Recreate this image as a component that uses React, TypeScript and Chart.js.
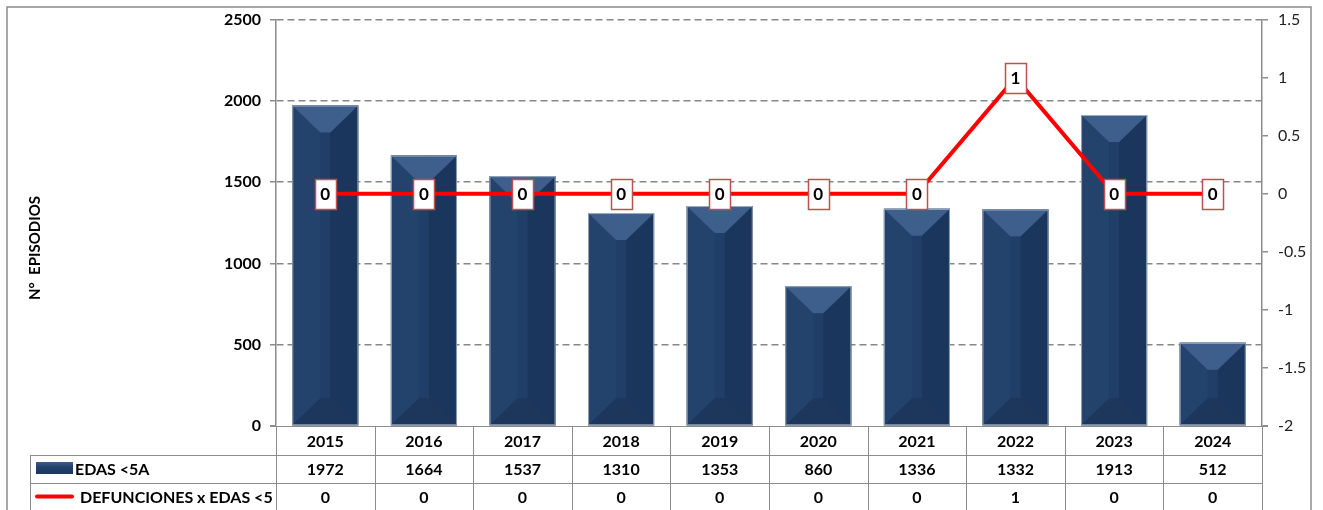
import React, { useEffect, useRef } from "react";
import { Chart, registerables } from "chart.js";

Chart.register(...registerables);

const years = ["2015", "2016", "2017", "2018", "2019", "2020", "2021", "2022", "2023", "2024"];
const edas = [1972, 1664, 1537, 1310, 1353, 860, 1336, 1332, 1913, 512];
const deaths = [0, 0, 0, 0, 0, 0, 0, 1, 0, 0];
const seriesNames = ["EDAS <5A", "DEFUNCIONES x EDAS <5"];
const yTitle = "N°  EPISODIOS";
const leftAxis = { min: 0, max: 2500, step: 500 };
const rightAxis = { min: -2, max: 1.5, step: 0.5 };

const FONT = "Lato, 'Open Sans', sans-serif";
const GRAY = "#8c8c8c";

const bevelPlugin = {
  id: "bevel",
  afterDatasetDraw(chart: any, args: any) {
    if (args.index !== 0) return;
    const ctx = chart.ctx;
    args.meta.data.forEach((el: any) => {
      const p = el.getProps(["x", "y", "base", "width"], true);
      const L = p.x - p.width / 2;
      const R = p.x + p.width / 2;
      const T = Math.min(p.y, p.base);
      const B = Math.max(p.y, p.base);
      const cx = p.x;
      const h = B - T;
      const d = Math.min(27, h / 2);
      const s = 5;
      ctx.save();
      ctx.fillStyle = "#23426c";
      ctx.fillRect(L, T, cx - L, h);
      ctx.fillStyle = "#1a365c";
      ctx.fillRect(cx, T, R - cx, h);
      ctx.fillStyle = "#203e67";
      ctx.fillRect(cx - s, T + d, 2 * s, h - 2 * d);
      ctx.fillStyle = "#1c375b";
      ctx.beginPath();
      ctx.moveTo(L, B);
      ctx.lineTo(R, B);
      ctx.lineTo(cx + s, B - d);
      ctx.lineTo(cx - s, B - d);
      ctx.closePath();
      ctx.fill();
      ctx.fillStyle = "#3e5f8b";
      ctx.beginPath();
      ctx.moveTo(L, T);
      ctx.lineTo(R, T);
      ctx.lineTo(cx + s, T + d);
      ctx.lineTo(cx - s, T + d);
      ctx.closePath();
      ctx.fill();
      ctx.strokeStyle = "rgba(200,206,216,0.7)";
      ctx.lineWidth = 1;
      ctx.strokeRect(L + 0.5, T + 0.5, R - L - 1, h - 1);
      ctx.restore();
    });
  },
};

const labelsPlugin = {
  id: "lineLabels",
  afterDatasetsDraw(chart: any) {
    const meta = chart.getDatasetMeta(1);
    const ctx = chart.ctx;
    ctx.save();
    meta.data.forEach((el: any, i: number) => {
      const w = 21;
      const h = 30;
      const x = Math.round(el.x - w / 2) + 0.5;
      const y = Math.round(el.y - h / 2) + 0.5;
      ctx.fillStyle = "#ffffff";
      ctx.fillRect(x, y, w, h);
      ctx.strokeStyle = "#c0504d";
      ctx.lineWidth = 1.5;
      ctx.strokeRect(x, y, w, h);
      ctx.fillStyle = "#000";
      ctx.font = `bold 17px ${FONT}`;
      ctx.textAlign = "center";
      ctx.textBaseline = "middle";
      ctx.fillText(String(deaths[i]), el.x, el.y + 1);
    });
    ctx.restore();
  },
};

const tablePlugin = {
  id: "dataTable",
  afterDraw(chart: any) {
    const ctx = chart.ctx;
    const area = chart.chartArea;
    const left = area.left;
    const right = area.right;
    const top = area.bottom;
    const n = years.length;
    const cw = (right - left) / n;
    const r1 = top + 29;
    const r2 = top + 57;
    const r3 = 510;
    const legL = 30;
    ctx.save();
    ctx.strokeStyle = GRAY;
    ctx.lineWidth = 1;
    const line = (x1: number, y1: number, x2: number, y2: number) => {
      ctx.beginPath();
      ctx.moveTo(x1, y1);
      ctx.lineTo(x2, y2);
      ctx.stroke();
    };
    line(left - 6, top + 0.5, right + 6, top + 0.5);
    line(legL, r1 + 0.5, right, r1 + 0.5);
    line(legL, r2 + 0.5, right, r2 + 0.5);
    line(legL + 0.5, r1, legL + 0.5, r3);
    for (let i = 0; i <= n; i++) {
      const x = Math.round(left + i * cw) + 0.5;
      line(x, top, x, r3);
    }
    ctx.fillStyle = "#000";
    ctx.font = `bold 16px ${FONT}`;
    ctx.textAlign = "center";
    ctx.textBaseline = "middle";
    for (let i = 0; i < n; i++) {
      const cx = left + (i + 0.5) * cw;
      ctx.fillText(years[i], cx, (top + r1) / 2 + 1);
      ctx.fillText(String(edas[i]), cx, (r1 + r2) / 2 + 1);
      ctx.fillText(String(deaths[i]), cx, (r2 + r3) / 2 + 1);
    }
    const g = ctx.createLinearGradient(0, r1 + 7, 0, r1 + 19);
    g.addColorStop(0, "#3e5f8b");
    g.addColorStop(0.4, "#23426c");
    g.addColorStop(1, "#1a365c");
    ctx.fillStyle = g;
    ctx.fillRect(36, r1 + 7, 37, 12);
    ctx.strokeStyle = "#ff0000";
    ctx.lineWidth = 4;
    ctx.lineCap = "round";
    line(37, (r2 + r3) / 2, 72, (r2 + r3) / 2);
    ctx.fillStyle = "#000";
    ctx.textAlign = "left";
    ctx.fillText(seriesNames[0], 75, (r1 + r2) / 2 + 1);
    ctx.fillText(seriesNames[1], 80, (r2 + r3) / 2 + 1);
    ctx.save();
    ctx.translate(35, 248);
    ctx.rotate(-Math.PI / 2);
    ctx.textAlign = "center";
    ctx.font = `bold 15px ${FONT}`;
    ctx.fillText(yTitle, 0, 0);
    ctx.restore();
    ctx.strokeStyle = GRAY;
    ctx.lineWidth = 1.5;
    ctx.strokeRect(7, 7, 1304, 520);
    ctx.restore();
  },
};

export default function App() {
  const ref = useRef<HTMLCanvasElement | null>(null);
  useEffect(() => {
    if (!ref.current) return;
    const chart = new Chart(ref.current, {
      type: "bar",
      data: {
        labels: years,
        datasets: [
          {
            type: "bar",
            label: seriesNames[0],
            data: edas,
            yAxisID: "y",
            backgroundColor: "#23426c",
            categoryPercentage: 1,
            barPercentage: 0.67,
            order: 2,
          },
          {
            type: "line",
            label: seriesNames[1],
            data: deaths,
            yAxisID: "y1",
            borderColor: "#ff0000",
            borderWidth: 4,
            pointRadius: 0,
            tension: 0,
            order: 1,
          } as any,
        ],
      },
      options: {
        responsive: false,
        animation: false,
        devicePixelRatio: 1,
        layout: { padding: { left: 0, right: 0, top: 18, bottom: 84 } },
        plugins: { legend: { display: false }, tooltip: { enabled: false }, title: { display: false } },
        scales: {
          x: { display: false, offset: true },
          y: {
            position: "left",
            min: leftAxis.min,
            max: leftAxis.max,
            afterFit: (s: any) => {
              s.width = 276;
            },
            ticks: {
              stepSize: leftAxis.step,
              padding: 9,
              color: "#000",
              font: { family: FONT, size: 16, weight: "bold" },
              callback: (v: any) => String(v),
            },
            grid: {
              color: (c: any) => (c.tick && c.tick.value === 0 ? "rgba(0,0,0,0)" : "#888888"),
              tickColor: GRAY,
              tickLength: 6,
              tickBorderDash: [],
              lineWidth: 1.5,
            },
            border: { display: true, color: GRAY, width: 1.5, dash: [7, 4] },
          },
          y1: {
            position: "right",
            min: rightAxis.min,
            max: rightAxis.max,
            afterFit: (s: any) => {
              s.width = 61;
            },
            ticks: {
              stepSize: rightAxis.step,
              padding: 10,
              color: "#222",
              font: { family: FONT, size: 16 },
              callback: (v: any) => String(v),
            },
            grid: { drawOnChartArea: false, tickColor: GRAY, tickLength: 6, lineWidth: 1.5 },
            border: { display: true, color: GRAY, width: 1.5 },
          },
        },
      },
      plugins: [bevelPlugin, labelsPlugin, tablePlugin],
    } as any);
    return () => chart.destroy();
  }, []);
  return (
    <div style={{ position: "fixed", left: 0, top: 0, width: 1323, height: 510, background: "#fff" }}>
      <canvas ref={ref} width={1323} height={510} style={{ display: "block" }} />
    </div>
  );
}
